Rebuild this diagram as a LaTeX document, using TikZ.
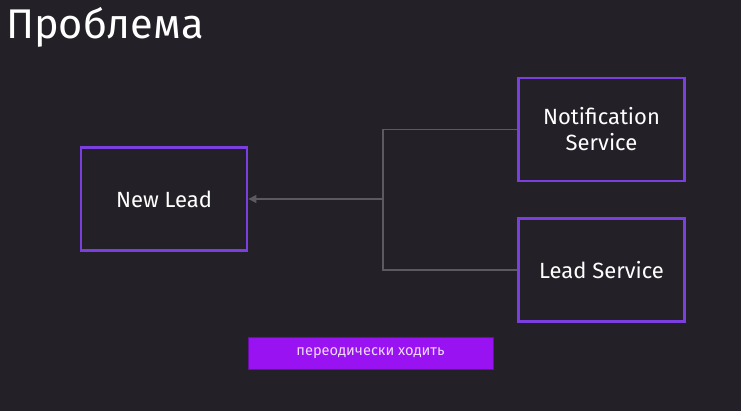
\documentclass[tikz,border=0pt]{standalone}
\usepackage{fontspec}
\setmainfont{Fira Sans}
\usetikzlibrary{arrows.meta}
\definecolor{bg}{HTML}{232027}
\definecolor{boxline}{HTML}{7B3FE0}
\definecolor{conn}{HTML}{5C5A60}
\definecolor{barfill}{HTML}{9812F2}
\definecolor{bartext}{HTML}{F2D8FF}
\tikzset{
  svcbox/.style={draw=boxline, line width=2.8pt, minimum width=166pt, minimum height=103pt, text=white, font=\fontsize{22}{26}\selectfont, align=center, inner sep=0pt},
  connline/.style={draw=conn, line width=1.2pt},
  bar/.style={fill=barfill, draw=barfill!70!black, line width=0.6pt, minimum width=245pt, minimum height=32pt, text=bartext, font=\fontsize{14.6}{16}\selectfont, inner sep=0pt}
}
\begin{document}
\begin{tikzpicture}[x=1pt,y=-1pt]
\fill[bg] (0,0) rectangle (741,411);
\useasboundingbox (0,0) rectangle (741,411);
\node[anchor=west, text=white, font=\fontsize{41.5}{48}\selectfont, inner sep=0pt] (title) at (6,27) {Проблема};
\node[svcbox] (newlead) at (164,199) {New Lead};
\node[svcbox] (notif) at (601.5,129.5) {Notification\\[0pt]Service};
\node[svcbox] (leadsvc) at (601.5,270) {Lead Service};
\coordinate (j) at (383,199);
\draw[connline] (notif.west) -| (j) |- (leadsvc.west);
\draw[connline, -{Triangle[length=8pt,width=8pt]}] (j) -- (newlead.east);
\node[bar] (bar) at (370.5,353) {переодически ходить};
\end{tikzpicture}
\end{document}
